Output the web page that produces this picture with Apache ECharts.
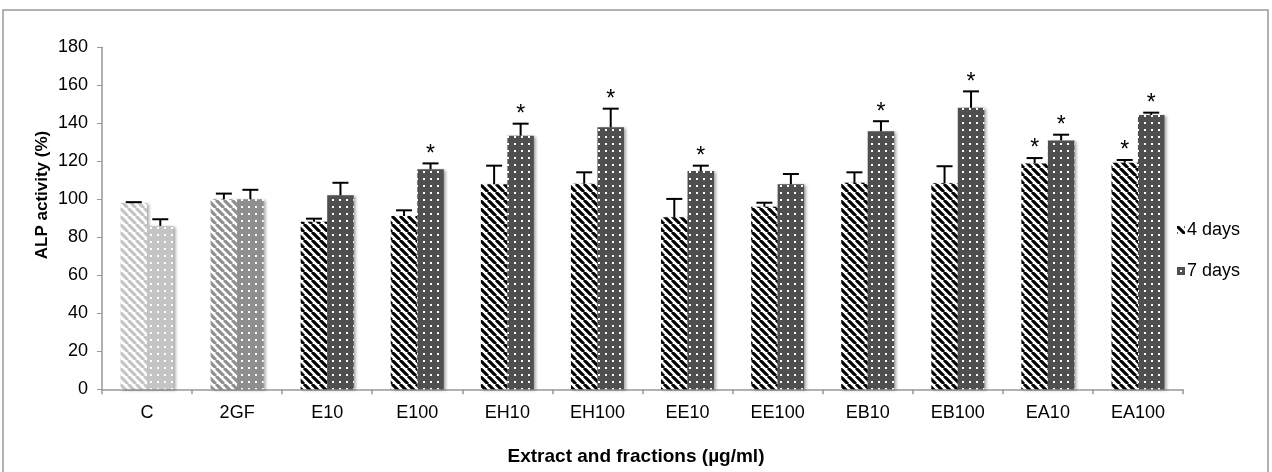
<!DOCTYPE html>
<html><head><meta charset="utf-8">
<script src="https://cdn.jsdelivr.net/npm/echarts@6/dist/echarts.min.js"></script>
<style>html,body{margin:0;padding:0;background:#fff}#c{width:1272px;height:472px}</style>
</head><body><div id="c"></div>
<script>
const categories = ['C','2GF','E10','E100','EH10','EH100','EE10','EE100','EB10','EB100','EA10','EA100'];
const days4 = [98,100,88.2,91.2,107.9,108.2,90.5,96.1,108.7,108.4,118.9,119.3];
const days4Err = [0.5,3,1.6,3,9.8,6,9.7,2.1,5.5,9,2.8,1.4];
const days7 = [86,100,102.1,115.8,133.5,137.9,114.9,107.9,135.8,148.2,131,144.4];
const days7Err = [3.5,5,6.6,3.1,6.3,9.8,2.8,5.4,5.3,8.6,3,1.2];
const days4Star = [0,0,0,0,0,0,0,0,0,0,1,1];
const days7Star = [0,0,0,1,1,1,1,0,1,1,1,1];
const seriesNames = ['4 days','7 days'];
const yMin = 0, yMax = 180, yInterval = 20;
const yTitle = 'ALP activity (%)';
const xTitle = 'Extract and fractions (µg/ml)';

const FONT = "'Liberation Sans', Arial, sans-serif";

function stripes(color, bg) {
  const s = 8, c = document.createElement('canvas');
  c.width = c.height = s;
  const ctx = c.getContext('2d');
  ctx.fillStyle = bg; ctx.fillRect(0, 0, s, s);
  ctx.strokeStyle = color; ctx.lineWidth = 3.1;
  ctx.beginPath();
  for (const k of [-1, 0, 1]) { ctx.moveTo(k * s, 0); ctx.lineTo(k * s + s, s); }
  ctx.stroke();
  return { image: c, repeat: 'repeat' };
}
function dots(bg) {
  const s = 7, c = document.createElement('canvas');
  c.width = c.height = s;
  const ctx = c.getContext('2d');
  ctx.fillStyle = bg; ctx.fillRect(0, 0, s, s);
  ctx.fillStyle = '#fff'; ctx.fillRect(3, 3, 2, 2);
  return { image: c, repeat: 'repeat' };
}
const p4 = stripes('#000', '#fff'), p4C = stripes('#c4c4c4', '#fff'), p4G = stripes('#8e8e8e', '#fff');
const p7 = dots('#4f4f4f'), p7C = dots('#c4c4c4'), p7G = dots('#8e8e8e');

const shadow = { shadowColor: 'rgba(0,0,0,0.35)', shadowBlur: 3, shadowOffsetX: 2, shadowOffsetY: 1 };
function barData(vals, main, cPat, gPat) {
  return vals.map((v, i) => ({ value: v, itemStyle: Object.assign({ color: i === 0 ? cPat : (i === 1 ? gPat : main) }, shadow) }));
}
function errData(vals, errs, stars) {
  return vals.map((v, i) => [i, v, errs[i], stars[i]]);
}
const BW = 26.5;
function errRender(offset) {
  return function (params, api) {
    const ci = api.value(0), v = api.value(1), e = api.value(2), star = api.value(3);
    const base = api.coord([ci, v]), top = api.coord([ci, v + e]);
    const x = base[0] + offset;
    const ch = [
      { type: 'line', shape: { x1: x, y1: base[1], x2: x, y2: top[1] }, style: { stroke: '#000', lineWidth: 2 } },
      { type: 'line', shape: { x1: x - 8, y1: top[1], x2: x + 8, y2: top[1] }, style: { stroke: '#000', lineWidth: 2 } }
    ];
    if (star) ch.push({ type: 'text', style: { text: '*', x: x, y: top[1] - 9, align: 'center', verticalAlign: 'middle', textAlign: 'center', textVerticalAlign: 'middle', font: '23px ' + FONT, fill: '#000' } });
    return { type: 'group', children: ch };
  };
}

const chart = echarts.init(document.getElementById('c'));
chart.setOption({
  animation: false,
  backgroundColor: '#fff',
  grid: { left: 102, right: 89, top: 47.3, bottom: 82.7 },
  legend: {
    data: seriesNames, orient: 'vertical', left: 1172, top: 216,
    itemWidth: 8, itemHeight: 8, itemGap: 23, icon: 'rect',
    textStyle: { fontFamily: FONT, fontSize: 18, color: '#000', lineHeight: 18, padding: [0, 0, 0, -3] }
  },
  xAxis: {
    type: 'category', data: categories,
    axisLine: { lineStyle: { color: '#999', width: 1.5 } },
    axisTick: { show: true, length: 5, lineStyle: { color: '#999', width: 1.5 } },
    axisLabel: { fontFamily: FONT, fontSize: 18, color: '#000', margin: 15 }
  },
  yAxis: {
    type: 'value', min: yMin, max: yMax, interval: yInterval,
    splitLine: { show: false },
    axisLine: { show: true, lineStyle: { color: '#999', width: 1.5 } },
    axisTick: { show: true, length: 5, lineStyle: { color: '#999', width: 1 } },
    axisLabel: { fontFamily: FONT, fontSize: 18, color: '#000', margin: 14 }
  },
  graphic: [
    { type: 'rect', shape: { x: 3, y: 10, width: 1265, height: 470 }, style: { fill: 'none', stroke: '#999', lineWidth: 1.5 }, silent: true },
    { type: 'text', x: 42, y: 195, rotation: Math.PI / 2, style: { text: yTitle, align: 'center', verticalAlign: 'middle', textAlign: 'center', textVerticalAlign: 'middle', font: 'bold 17px ' + FONT, fill: '#000' } },
    { type: 'text', x: 636, y: 457, style: { text: xTitle, align: 'center', verticalAlign: 'middle', textAlign: 'center', textVerticalAlign: 'middle', font: 'bold 19px ' + FONT, fill: '#000' } }
  ],
  series: [
    { name: seriesNames[0], type: 'bar', barWidth: BW, barGap: '0%', itemStyle: { color: p4 }, data: barData(days4, p4, p4C, p4G) },
    { name: seriesNames[1], type: 'bar', barWidth: BW, barGap: '0%', itemStyle: { color: p7 }, data: barData(days7, p7, p7C, p7G) },
    { type: 'custom', z: 10, renderItem: errRender(-BW / 2), data: errData(days4, days4Err, days4Star), silent: true },
    { type: 'custom', z: 10, renderItem: errRender(BW / 2), data: errData(days7, days7Err, days7Star), silent: true }
  ]
});
</script></body></html>
